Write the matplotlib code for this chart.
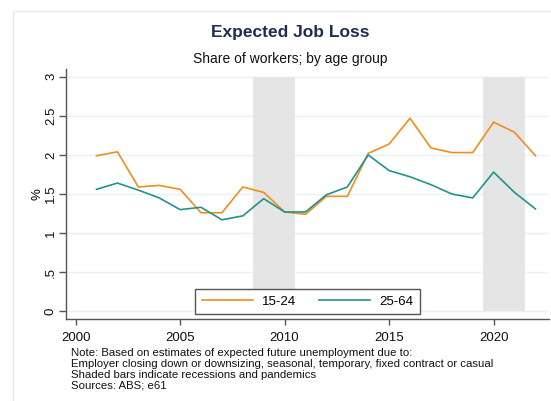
import matplotlib
matplotlib.use("Agg")
import matplotlib.pyplot as plt
from matplotlib.patches import Rectangle

years = list(range(2001, 2023))
young = [1.99, 2.04, 1.59, 1.61, 1.56, 1.26, 1.26, 1.59, 1.52, 1.27, 1.24, 1.47,
         1.47, 2.02, 2.14, 2.47, 2.09, 2.03, 2.03, 2.42, 2.29, 1.99]
prime = [1.56, 1.64, 1.55, 1.45, 1.30, 1.33, 1.17, 1.22, 1.44, 1.27, 1.27, 1.49,
         1.59, 2.00, 1.80, 1.72, 1.62, 1.50, 1.45, 1.78, 1.52, 1.31]
series_labels = ["15-24", "25-64"]
shaded = [(2008.5, 2010.5), (2019.5, 2021.5)]
xticks = [2000, 2005, 2010, 2015, 2020]
yticks = [0, 0.5, 1, 1.5, 2, 2.5, 3]
ytick_labels = ["0", ".5", "1", "1.5", "2", "2.5", "3"]
notes = ["Note: Based on estimates of expected future unemployment due to:",
         "Employer closing down or downsizing, seasonal, temporary, fixed contract or casual",
         "Shaded bars indicate recessions and pandemics",
         "Sources: ABS; e61"]

plt.rcParams['font.family'] = ['Liberation Sans', 'DejaVu Sans']

W, H = 551, 401
fig = plt.figure(figsize=(W / 100, H / 100), dpi=100)
fig.patches.append(Rectangle((13 / W, -0.1), 1.2, 1 - 11 / H + 0.1, transform=fig.transFigure,
                             facecolor='none', edgecolor='#e3ebee', linewidth=1.0, zorder=-1))

ax = fig.add_axes([66 / W, 1 - 319 / H, (549 - 66) / W, (319 - 69) / H])
ax.set_xlim(1999.54, 2022.65)
ax.set_ylim(-0.1, 3.1)

for a, b in shaded:
    ax.bar((a + b) / 2, 3, width=b - a, bottom=0, color='#e5e5e5', zorder=1, linewidth=0)

ax.plot(years, young, color='#F28E1C', lw=1.2, label=series_labels[0], zorder=3)
ax.plot(years, prime, color='#20948B', lw=1.2, label=series_labels[1], zorder=3)

ax.set_yticks(yticks)
ax.set_yticklabels(ytick_labels, rotation=90, va='center')
ax.set_xticks(xticks)
ax.grid(axis='y', color='#eaf2f3', lw=1.0, zorder=0)
ax.set_axisbelow(True)
for s in ['top', 'right']:
    ax.spines[s].set_visible(False)
for s in ['left', 'bottom']:
    ax.spines[s].set_color('#555555')
    ax.spines[s].set_linewidth(1.0)
ax.tick_params(axis='both', direction='out', width=1, color='#555555',
               labelsize=9.5, labelcolor='#111111')
ax.tick_params(axis='y', length=5, pad=1.5)
ax.tick_params(axis='x', length=4.5, pad=5)
ax.set_ylabel('%', fontsize=9.5, labelpad=1)

leg = ax.legend(loc='lower center', bbox_to_anchor=(0.5, 0.0), ncol=2, frameon=True,
                fancybox=False, edgecolor='#555555', fontsize=9.5, handlelength=3.9,
                columnspacing=1.7, borderpad=0.5, handletextpad=0.7, framealpha=1,
                borderaxespad=0.35)
leg.get_frame().set_linewidth(1.0)
leg.set_zorder(5)

fig.text(290 / W, 1 - 33 / H, 'Expected Job Loss', ha='center', va='center',
         fontsize=12.5, fontweight='bold', color='#1f2d56')
fig.text(290 / W, 1 - 59 / H, 'Share of workers; by age group', ha='center', va='center',
         fontsize=10, color='#111111')

for i, line in enumerate(notes):
    fig.text(71 / W, 1 - (353 + 11 * i) / H, line, ha='left', va='center',
             fontsize=8.2, color='#111111')

fig.savefig('out.png', dpi=100)
